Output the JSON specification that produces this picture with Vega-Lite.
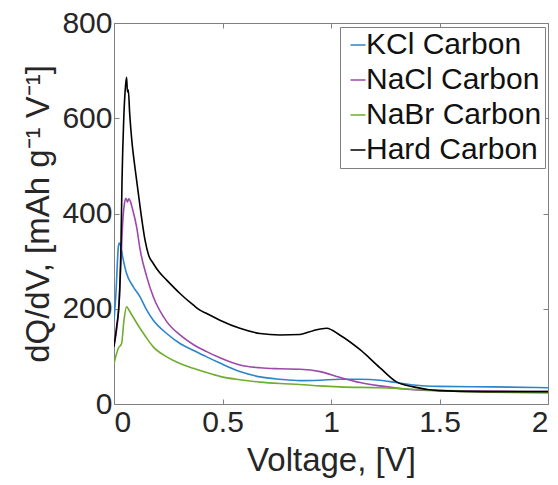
{
  "$schema": "https://vega.github.io/schema/vega-lite/v6.json",
  "width": 434,
  "height": 381,
  "autosize": {"type": "none"},
  "padding": {"left": 114, "top": 23, "right": 10, "bottom": 81},
  "background": "white",
  "config": {
    "view": {"stroke": null},
    "font": "Liberation Sans",
    "axis": {
      "domainColor": "#808080",
      "tickColor": "#808080",
      "tickSize": -5,
      "labelFont": "Liberation Sans",
      "labelFontSize": 30,
      "labelColor": "#262626",
      "titleFont": "Liberation Sans",
      "titleFontSize": 33,
      "titleFontWeight": "normal",
      "titleColor": "#262626",
      "grid": false
    },
    "legend": {
      "labelFont": "Liberation Sans",
      "labelFontSize": 30,
      "labelColor": "#111111",
      "labelLimit": 400
    }
  },
  "data": {
    "values": [
      {"s": "KCl Carbon", "v": 0.000, "q": 175},
      {"s": "KCl Carbon", "v": 0.009, "q": 233},
      {"s": "KCl Carbon", "v": 0.020, "q": 330},
      {"s": "KCl Carbon", "v": 0.024, "q": 338},
      {"s": "KCl Carbon", "v": 0.030, "q": 334},
      {"s": "KCl Carbon", "v": 0.040, "q": 309},
      {"s": "KCl Carbon", "v": 0.058, "q": 274},
      {"s": "KCl Carbon", "v": 0.089, "q": 246},
      {"s": "KCl Carbon", "v": 0.120, "q": 225},
      {"s": "KCl Carbon", "v": 0.151, "q": 197},
      {"s": "KCl Carbon", "v": 0.181, "q": 176},
      {"s": "KCl Carbon", "v": 0.243, "q": 148},
      {"s": "KCl Carbon", "v": 0.304, "q": 127},
      {"s": "KCl Carbon", "v": 0.365, "q": 113},
      {"s": "KCl Carbon", "v": 0.427, "q": 99},
      {"s": "KCl Carbon", "v": 0.488, "q": 86},
      {"s": "KCl Carbon", "v": 0.580, "q": 68},
      {"s": "KCl Carbon", "v": 0.673, "q": 57},
      {"s": "KCl Carbon", "v": 0.765, "q": 52},
      {"s": "KCl Carbon", "v": 0.857, "q": 49},
      {"s": "KCl Carbon", "v": 0.950, "q": 50},
      {"s": "KCl Carbon", "v": 1.040, "q": 52},
      {"s": "KCl Carbon", "v": 1.134, "q": 52},
      {"s": "KCl Carbon", "v": 1.226, "q": 50},
      {"s": "KCl Carbon", "v": 1.300, "q": 45},
      {"s": "KCl Carbon", "v": 1.380, "q": 40},
      {"s": "KCl Carbon", "v": 1.500, "q": 37},
      {"s": "KCl Carbon", "v": 1.750, "q": 36},
      {"s": "KCl Carbon", "v": 2.000, "q": 34},

      {"s": "NaCl Carbon", "v": 0.000, "q": 125},
      {"s": "NaCl Carbon", "v": 0.024, "q": 215},
      {"s": "NaCl Carbon", "v": 0.032, "q": 300},
      {"s": "NaCl Carbon", "v": 0.040, "q": 380},
      {"s": "NaCl Carbon", "v": 0.048, "q": 420},
      {"s": "NaCl Carbon", "v": 0.055, "q": 432},
      {"s": "NaCl Carbon", "v": 0.062, "q": 424},
      {"s": "NaCl Carbon", "v": 0.068, "q": 431},
      {"s": "NaCl Carbon", "v": 0.076, "q": 425},
      {"s": "NaCl Carbon", "v": 0.085, "q": 410},
      {"s": "NaCl Carbon", "v": 0.105, "q": 370},
      {"s": "NaCl Carbon", "v": 0.120, "q": 325},
      {"s": "NaCl Carbon", "v": 0.151, "q": 267},
      {"s": "NaCl Carbon", "v": 0.181, "q": 225},
      {"s": "NaCl Carbon", "v": 0.243, "q": 173},
      {"s": "NaCl Carbon", "v": 0.304, "q": 145},
      {"s": "NaCl Carbon", "v": 0.365, "q": 125},
      {"s": "NaCl Carbon", "v": 0.427, "q": 110},
      {"s": "NaCl Carbon", "v": 0.488, "q": 97},
      {"s": "NaCl Carbon", "v": 0.580, "q": 82},
      {"s": "NaCl Carbon", "v": 0.673, "q": 76},
      {"s": "NaCl Carbon", "v": 0.765, "q": 74},
      {"s": "NaCl Carbon", "v": 0.857, "q": 73},
      {"s": "NaCl Carbon", "v": 0.950, "q": 68},
      {"s": "NaCl Carbon", "v": 1.040, "q": 56},
      {"s": "NaCl Carbon", "v": 1.134, "q": 45},
      {"s": "NaCl Carbon", "v": 1.226, "q": 38},
      {"s": "NaCl Carbon", "v": 1.350, "q": 31},
      {"s": "NaCl Carbon", "v": 1.500, "q": 28},
      {"s": "NaCl Carbon", "v": 2.000, "q": 26},

      {"s": "NaBr Carbon", "v": 0.000, "q": 85},
      {"s": "NaBr Carbon", "v": 0.020, "q": 117},
      {"s": "NaBr Carbon", "v": 0.035, "q": 127},
      {"s": "NaBr Carbon", "v": 0.046, "q": 176},
      {"s": "NaBr Carbon", "v": 0.058, "q": 204},
      {"s": "NaBr Carbon", "v": 0.068, "q": 198},
      {"s": "NaBr Carbon", "v": 0.081, "q": 188},
      {"s": "NaBr Carbon", "v": 0.120, "q": 159},
      {"s": "NaBr Carbon", "v": 0.151, "q": 138},
      {"s": "NaBr Carbon", "v": 0.181, "q": 120},
      {"s": "NaBr Carbon", "v": 0.243, "q": 99},
      {"s": "NaBr Carbon", "v": 0.304, "q": 85},
      {"s": "NaBr Carbon", "v": 0.365, "q": 75},
      {"s": "NaBr Carbon", "v": 0.427, "q": 66},
      {"s": "NaBr Carbon", "v": 0.488, "q": 58},
      {"s": "NaBr Carbon", "v": 0.580, "q": 51},
      {"s": "NaBr Carbon", "v": 0.673, "q": 46},
      {"s": "NaBr Carbon", "v": 0.765, "q": 43},
      {"s": "NaBr Carbon", "v": 0.857, "q": 41},
      {"s": "NaBr Carbon", "v": 0.950, "q": 38},
      {"s": "NaBr Carbon", "v": 1.040, "q": 36},
      {"s": "NaBr Carbon", "v": 1.226, "q": 34},
      {"s": "NaBr Carbon", "v": 1.500, "q": 28},
      {"s": "NaBr Carbon", "v": 2.000, "q": 23},

      {"s": "Hard Carbon", "v": 0.000, "q": 120},
      {"s": "Hard Carbon", "v": 0.012, "q": 162},
      {"s": "Hard Carbon", "v": 0.024, "q": 218},
      {"s": "Hard Carbon", "v": 0.032, "q": 330},
      {"s": "Hard Carbon", "v": 0.037, "q": 470},
      {"s": "Hard Carbon", "v": 0.045, "q": 600},
      {"s": "Hard Carbon", "v": 0.052, "q": 662},
      {"s": "Hard Carbon", "v": 0.058, "q": 686},
      {"s": "Hard Carbon", "v": 0.062, "q": 655},
      {"s": "Hard Carbon", "v": 0.066, "q": 660},
      {"s": "Hard Carbon", "v": 0.072, "q": 612},
      {"s": "Hard Carbon", "v": 0.082, "q": 554},
      {"s": "Hard Carbon", "v": 0.097, "q": 495},
      {"s": "Hard Carbon", "v": 0.112, "q": 443},
      {"s": "Hard Carbon", "v": 0.128, "q": 388},
      {"s": "Hard Carbon", "v": 0.143, "q": 344},
      {"s": "Hard Carbon", "v": 0.160, "q": 312},
      {"s": "Hard Carbon", "v": 0.181, "q": 295},
      {"s": "Hard Carbon", "v": 0.210, "q": 276},
      {"s": "Hard Carbon", "v": 0.243, "q": 260},
      {"s": "Hard Carbon", "v": 0.304, "q": 232},
      {"s": "Hard Carbon", "v": 0.365, "q": 208},
      {"s": "Hard Carbon", "v": 0.396, "q": 197},
      {"s": "Hard Carbon", "v": 0.427, "q": 190},
      {"s": "Hard Carbon", "v": 0.488, "q": 176},
      {"s": "Hard Carbon", "v": 0.580, "q": 159},
      {"s": "Hard Carbon", "v": 0.673, "q": 148},
      {"s": "Hard Carbon", "v": 0.765, "q": 145},
      {"s": "Hard Carbon", "v": 0.857, "q": 146},
      {"s": "Hard Carbon", "v": 0.918, "q": 154},
      {"s": "Hard Carbon", "v": 0.980, "q": 159},
      {"s": "Hard Carbon", "v": 1.040, "q": 145},
      {"s": "Hard Carbon", "v": 1.134, "q": 114},
      {"s": "Hard Carbon", "v": 1.226, "q": 76},
      {"s": "Hard Carbon", "v": 1.300, "q": 47},
      {"s": "Hard Carbon", "v": 1.380, "q": 36},
      {"s": "Hard Carbon", "v": 1.500, "q": 28},
      {"s": "Hard Carbon", "v": 1.700, "q": 26},
      {"s": "Hard Carbon", "v": 2.000, "q": 26}
    ]
  },
  "layer": [
    {
      "mark": {"type": "line", "strokeWidth": 1.6, "clip": true, "interpolate": "monotone"},
      "encoding": {
        "x": {
          "field": "v", "type": "quantitative",
          "scale": {"domain": [0, 2], "nice": false},
          "axis": {"orient": "bottom", "values": [0, 0.5, 1, 1.5, 2], "format": "~g", "title": "Voltage, [V]", "labelPadding": 8, "titlePadding": 7}
        },
        "y": {
          "field": "q", "type": "quantitative",
          "scale": {"domain": [0, 800], "nice": false},
          "axis": {"orient": "left", "values": [0, 200, 400, 600, 800], "title": "dQ/dV, [mAh g⁻¹ V⁻¹]", "labelPadding": 7, "titlePadding": 6}
        },
        "color": {
          "field": "s", "type": "nominal",
          "scale": {"domain": ["KCl Carbon", "NaCl Carbon", "NaBr Carbon", "Hard Carbon"], "range": ["#2a85cc", "#9c48ac", "#6fae2c", "#000000"]},
          "legend": {
            "title": null,
            "orient": "none",
            "legendX": 226,
            "legendY": 4,
            "symbolType": "stroke",
            "symbolSize": 225,
            "symbolStrokeWidth": 1.5,
            "symbolOffset": 0,
            "labelOffset": -7,
            "rowPadding": 5,
            "padding": 3,
            "strokeColor": "#808080",
            "fillColor": "white"
          }
        }
      }
    },
    {
      "mark": {"type": "point", "opacity": 0},
      "encoding": {
        "x": {"field": "v", "type": "quantitative", "axis": {"orient": "top", "values": [0, 0.5, 1, 1.5, 2], "labels": false, "title": null}},
        "y": {"field": "q", "type": "quantitative", "axis": {"orient": "right", "values": [0, 200, 400, 600, 800], "labels": false, "title": null}}
      }
    }
  ],
  "resolve": {"axis": {"x": "independent", "y": "independent"}}
}
